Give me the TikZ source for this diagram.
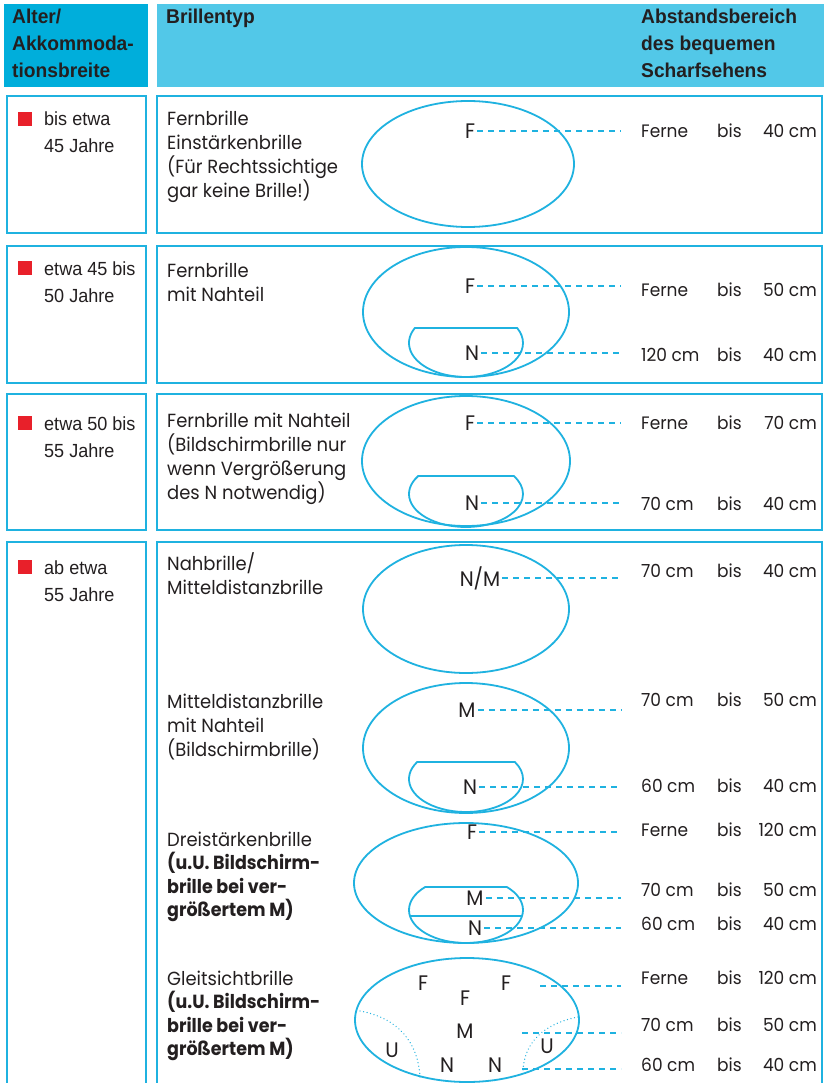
\documentclass[tikz,border=0pt]{standalone}
\usepackage{fontspec}
\setmainfont{Poppins}
\newfontfamily\agefont[FakeStretch=0.95]{Liberation Sans}
\newfontfamily\headfont[FakeStretch=0.96]{Liberation Sans}
\newfontfamily\typefont[FakeStretch=0.945, BoldFeatures={FakeStretch=0.92}]{Poppins}
\usetikzlibrary{positioning}

\definecolor{cyanline}{HTML}{1FB2E0}
\definecolor{headdark}{HTML}{00AEDB}
\definecolor{headlight}{HTML}{52C8E8}
\definecolor{redmark}{HTML}{E8202A}
\definecolor{ink}{HTML}{231F20}

\begin{document}
\begin{tikzpicture}[x=1pt,y=-1pt]

  % Define styles (multi-line texts are placed at the baseline of their last line)
  \tikzset{
    cell/.style={draw=cyanline, line width=1.4pt},
    headtext/.style={font=\headfont\bfseries\fontsize{20}{27}\selectfont, text=ink, align=left, anchor=base west, inner sep=0pt},
    agetext/.style={font=\agefont\fontsize{19}{27}\selectfont, text=ink, align=left, anchor=base west, inner sep=0pt},
    typetext/.style={font=\typefont\fontsize{19}{24}\selectfont, text=ink, align=left, anchor=base west, inner sep=0pt},
    redsq/.style={fill=redmark, draw=none, minimum size=14pt, inner sep=0pt, anchor=south west},
    lens/.style={draw=cyanline, line width=1.8pt},
    lbl/.style={font=\typefont\fontsize{21}{21}\selectfont, text=ink, inner sep=2pt},
    guide/.style={draw=cyanline, line width=1.3pt, dash pattern=on 6pt off 5pt},
    dist/.style={font=\typefont\fontsize{18}{18}\selectfont, text=ink, inner sep=0pt},
  }

  \useasboundingbox[fill=white] (0,0) rectangle (824,1083);

  % Header
  \fill[headdark] (4,4) rectangle (148,87);
  \fill[headlight] (157,4) rectangle (824,87);
  \node[headtext] (hage) at (12,78) {Alter/\\Akkommoda-\\tionsbreite};
  \node[headtext] (htype) at (166,24) {Brillentyp};
  \node[headtext] (hdist) at (641,78) {Abstandsbereich\\des bequemen\\Scharfsehens};

  % Row frames
  \draw[cell] (7,96) rectangle (146,233);
  \draw[cell] (157,96) rectangle (822,233);
  \draw[cell] (7,246) rectangle (146,383);
  \draw[cell] (157,246) rectangle (822,383);
  \draw[cell] (7,394) rectangle (146,530);
  \draw[cell] (157,394) rectangle (822,530);
  \draw[cell] (7,1090) -- (7,542) -- (146,542) -- (146,1090);
  \draw[cell] (157,1090) -- (157,542) -- (822,542) -- (822,1090);

  % Age column
  \node[redsq] (sq1) at (18,126) {};
  \node[agetext] (age1) at (44,153) {bis etwa\\45 Jahre};
  \node[redsq] (sq2) at (18,275) {};
  \node[agetext] (age2) at (44,302) {etwa 45 bis\\50 Jahre};
  \node[redsq] (sq3) at (18,430) {};
  \node[agetext] (age3) at (44,457) {etwa 50 bis\\55 Jahre};
  \node[redsq] (sq4) at (18,574) {};
  \node[agetext] (age4) at (44,601) {ab etwa\\55 Jahre};

  % Type column
  \node[typetext] (type1) at (167,198) {Fernbrille\\Einstärkenbrille\\(Für Rechtssichtige\\gar keine Brille!)};
  \node[typetext] (type2) at (167,301) {Fernbrille\\mit Nahteil};
  \node[typetext] (type3) at (167,499) {Fernbrille mit Nahteil\\(Bildschirmbrille nur\\wenn Vergrößerung\\des N notwendig)};
  \node[typetext] (type4) at (167,594) {Nahbrille/\\Mitteldistanzbrille};
  \node[typetext] (type5) at (167,756) {Mitteldistanzbrille\\mit Nahteil\\(Bildschirmbrille)};
  \node[typetext, font=\typefont\fontsize{19}{23.5}\selectfont] (type6) at (167,916.5)
    {Dreistärkenbrille\\\textbf{(u.U. Bildschirm-}\\\textbf{brille bei ver-}\\\textbf{größertem M)}};
  \node[typetext, font=\typefont\fontsize{19}{23.5}\selectfont] (type7) at (167,1055.5)
    {Gleitsichtbrille\\\textbf{(u.U. Bildschirm-}\\\textbf{brille bei ver-}\\\textbf{größertem M)}};

  % Lenses
  \draw[lens] (468,164) ellipse [x radius=106, y radius=63];
  \draw[lens] (466,312) ellipse [x radius=103, y radius=65];
  \draw[lens] (466,343) ++(206.2:57 and 34) arc[start angle=206.2, end angle=-26.2, x radius=57, y radius=34] -- cycle;
  \draw[lens] (466,461) ellipse [x radius=104, y radius=65];
  \draw[lens] (466,494) ++(213:57 and 33) arc[start angle=213, end angle=-33, x radius=57, y radius=33] -- cycle;
  \draw[lens] (466,609) ellipse [x radius=103, y radius=64];
  \draw[lens] (466,748) ellipse [x radius=103, y radius=65];
  \draw[lens] (466,779) ++(211:57 and 33) arc[start angle=211, end angle=-31, x radius=57, y radius=33] -- cycle;
  \draw[lens] (466,883) ellipse [x radius=112, y radius=60];
  \draw[lens] (466,910) ++(224.2:57 and 33) arc[start angle=224.2, end angle=-44.2, x radius=57, y radius=33] -- cycle;
  \draw[lens] (466,910) ++(169.5:57 and 33) -- ++(112,0);
  \draw[lens] (467,1020) ellipse [x radius=112, y radius=62];
  \draw[cyanline, line width=1.3pt, dash pattern=on 0.1pt off 3.5pt, line cap=round]
    (360,1011) .. controls (398,1018) and (418,1042) .. (420,1077);
  \draw[cyanline, line width=1.3pt, dash pattern=on 0.1pt off 3.5pt, line cap=round]
    (578,1017) .. controls (542,1024) and (524,1044) .. (523,1071);

  % Lens labels
  \node[lbl] (lF1) at (470,131) {F};
  \node[lbl] (lF2) at (470,286) {F};
  \node[lbl] (lN2) at (472,353) {N};
  \node[lbl] (lF3) at (470,423) {F};
  \node[lbl] (lN3) at (472,503) {N};
  \node[lbl] (lNM4) at (480,578) {N/M};
  \node[lbl] (lM5) at (467,710) {M};
  \node[lbl] (lN5) at (470,787) {N};
  \node[lbl] (lF6) at (472,832) {F};
  \node[lbl] (lM6) at (475,898) {M};
  \node[lbl] (lN6) at (475,928) {N};
  \node[lbl] (lFa7) at (423,983) {F};
  \node[lbl] (lFb7) at (465,998) {F};
  \node[lbl] (lFc7) at (506,983) {F};
  \node[lbl] (lM7) at (465,1031) {M};
  \node[lbl] (lUa7) at (392,1050) {U};
  \node[lbl] (lNa7) at (447,1065) {N};
  \node[lbl] (lNb7) at (495,1065) {N};
  \node[lbl] (lUb7) at (547,1046) {U};

  % Guide lines to the distances
  \coordinate (gx) at (621,0);
  \foreach \l in {lF1,lF2,lN2,lF3,lN3,lNM4,lM5,lN5,lF6,lM6,lN6}
    \draw[guide] (\l.east) -- (\l.east -| gx);
  \coordinate (g1) at (540,986);
  \coordinate (g2) at (522,1033);
  \coordinate (g3) at (522,1069);
  \foreach \g in {g1,g2,g3}
    \draw[guide] (\g) -- (\g -| gx);

  % Distance column
  \foreach \n/\y/\a/\b in {1/138/Ferne/40, 2/296/Ferne/50, 3/361/120 cm/40,
      4/429/Ferne/70, 5/510/70 cm/40, 6/577/70 cm/40, 7/706/70 cm/50,
      8/792/60 cm/40, 9/836/Ferne/120, 10/896/70 cm/50, 11/930/60 cm/40,
      12/984/Ferne/120, 13/1031/70 cm/50, 14/1071/60 cm/40}
  {
    \node[dist, anchor=base west] (from\n) at (641,\y) {\a};
    \node[dist, anchor=base west] (bis\n) at (717,\y) {bis};
    \node[dist, anchor=base east] (to\n) at (817,\y) {\b~cm};
  }

\end{tikzpicture}
\end{document}
